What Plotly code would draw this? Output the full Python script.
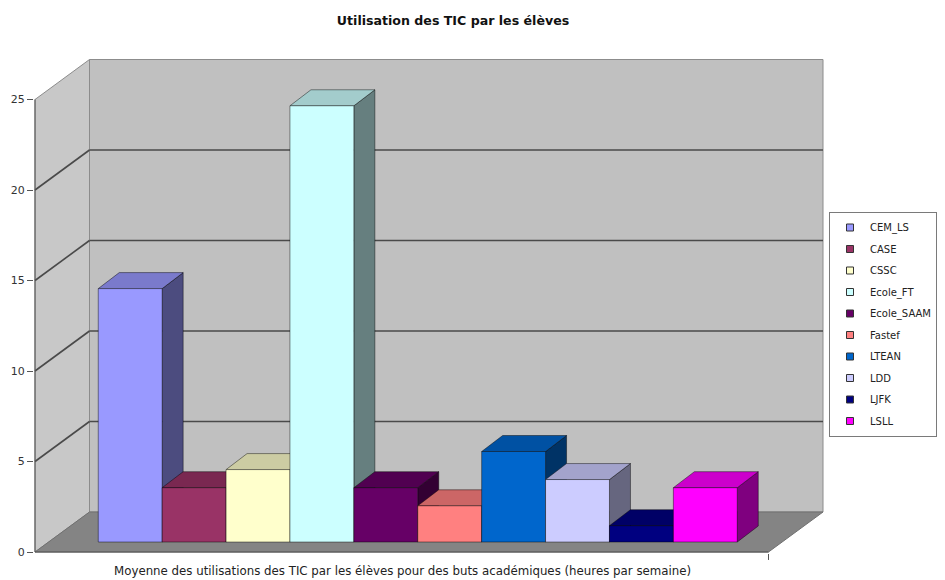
import plotly.graph_objects as go

# ---------------- data ----------------
categories = ["CEM_LS", "CASE", "CSSC", "Ecole_FT", "Ecole_SAAM",
              "Fastef", "LTEAN", "LDD", "LJFK", "LSLL"]
values = [14.0, 3.0, 4.0, 24.1, 3.0, 2.0, 5.0, 3.45, 0.9, 3.0]
colors = ["#9999FF", "#993366", "#FFFFCC", "#CCFFFF", "#660066",
          "#FF8080", "#0066CC", "#CCCCFF", "#000080", "#FF00FF"]
y_ticks = [0, 5, 10, 15, 20, 25]
chart_title = "Utilisation des TIC par les élèves"
x_title = ("Moyenne des utilisations des TIC par les élèves pour des buts "
           "académiques (heures par semaine)")

# ---------------- geometry (pseudo-3D, Excel style) ----------------
OFF = 8                       # default body margin of the html page
FIG_W, FIG_H = 945 - OFF, 580 - OFF
PX_X = 63.9                   # pixels per category
PX_Y = 18.1                   # pixels per unit
# plot area in screen pixels
P_LEFT, P_RIGHT, P_TOP, P_BOTTOM = 34, 826, 57, 554
ML = P_LEFT - OFF
MT = P_TOP - OFF
MR = FIG_W - (P_RIGHT - OFF)
MB = FIG_H - (P_BOTTOM - OFF)
PLOT_W = P_RIGHT - P_LEFT
PLOT_H = P_BOTTOM - P_TOP
X_FRONT = -0.99               # front-left corner (category units)
X_START = X_FRONT - 1 / PX_X
X_END = X_START + PLOT_W / PX_X
Y_START = -2 / PX_Y
Y_END = Y_START + PLOT_H / PX_Y
BACK_DX = 54.5 / PX_X
BACK_DY = 40 / PX_Y
X_BACK_RIGHT = X_END - 3 / PX_X
X_FLOOR_FRONT_RIGHT = X_BACK_RIGHT - BACK_DX
BAR_BASE = 10 / PX_Y
BAR_DX = 21 / PX_X
BAR_DY = 16 / PX_Y
Y_MAX = max(y_ticks)

FONT = "DejaVu Sans, Arial, sans-serif"


def shade(hex_color, f):
    h = hex_color.lstrip("#")
    r, g, b = (int(h[k:k + 2], 16) for k in (0, 2, 4))
    return "#%02x%02x%02x" % (int(r * f), int(g * f), int(b * f))


def px_x(sx):
    return (sx - P_LEFT) / PLOT_W


def px_y(sy):
    return (P_BOTTOM - sy) / PLOT_H


fig = go.Figure()

edge = dict(color="rgba(0,0,0,0.55)", width=0.8)
for i, (cat, v, c) in enumerate(zip(categories, values, colors)):
    x0, x1 = i, i + 1
    yb, yt = BAR_BASE, BAR_BASE + v
    # side face
    fig.add_trace(go.Scatter(
        x=[x1, x1 + BAR_DX, x1 + BAR_DX, x1, x1],
        y=[yb, yb + BAR_DY, yt + BAR_DY, yt, yb],
        fill="toself", fillcolor=shade(c, 0.5), mode="lines", line=edge,
        showlegend=False, hoverinfo="skip"))
    # top face
    fig.add_trace(go.Scatter(
        x=[x0, x0 + BAR_DX, x1 + BAR_DX, x1, x0],
        y=[yt, yt + BAR_DY, yt + BAR_DY, yt, yt],
        fill="toself", fillcolor=shade(c, 0.8), mode="lines", line=edge,
        showlegend=False, hoverinfo="skip"))
    # front face
    fig.add_trace(go.Scatter(
        x=[x0, x1, x1, x0, x0],
        y=[yb, yb, yt, yt, yb],
        fill="toself", fillcolor=c, mode="lines", line=edge,
        name=cat, legendgroup=cat, showlegend=False,
        hoveron="fills", hoverinfo="name+text", text="%s: %g" % (cat, v)))
    # legend entry
    fig.add_trace(go.Scatter(
        x=[None], y=[None], mode="markers", name=cat, legendgroup=cat,
        marker=dict(symbol="square", size=7, color=c,
                    line=dict(color="#333333", width=1))))

shapes = []
# left wall
shapes.append(dict(
    type="path", layer="below", xref="x", yref="y",
    path="M %f,%f L %f,%f L %f,%f L %f,%f Z" % (
        X_FRONT, 0, X_FRONT, Y_MAX, X_FRONT + BACK_DX, Y_MAX + BACK_DY,
        X_FRONT + BACK_DX, BACK_DY),
    fillcolor="#c8c8c8", line=dict(color="#8c8c8c", width=1)))
# back wall
shapes.append(dict(
    type="rect", layer="below", xref="x", yref="y",
    x0=X_FRONT + BACK_DX, x1=X_BACK_RIGHT, y0=BACK_DY, y1=Y_MAX + BACK_DY,
    fillcolor="#c0c0c0", line=dict(color="#8c8c8c", width=1)))
# floor
shapes.append(dict(
    type="path", layer="below", xref="x", yref="y",
    path="M %f,%f L %f,%f L %f,%f L %f,%f Z" % (
        X_FRONT, 0, X_FLOOR_FRONT_RIGHT, 0, X_BACK_RIGHT, BACK_DY,
        X_FRONT + BACK_DX, BACK_DY),
    fillcolor="#848484", line=dict(color="#707070", width=1)))
# gridlines
for t in y_ticks[1:-1]:
    shapes.append(dict(type="line", layer="below", xref="x", yref="y",
                       x0=X_FRONT, y0=t, x1=X_FRONT + BACK_DX, y1=t + BACK_DY,
                       line=dict(color="#4a4a4a", width=1.6)))
    shapes.append(dict(type="line", layer="below", xref="x", yref="y",
                       x0=X_FRONT + BACK_DX, y0=t + BACK_DY,
                       x1=X_BACK_RIGHT, y1=t + BACK_DY,
                       line=dict(color="#4a4a4a", width=1.6)))
# front axes
shapes.append(dict(type="line", layer="above", xref="x", yref="y",
                   x0=X_FRONT, y0=0, x1=X_FRONT, y1=Y_MAX,
                   line=dict(color="#555555", width=1)))
shapes.append(dict(type="line", layer="above", xref="x", yref="y",
                   x0=X_FRONT, y0=0, x1=X_FLOOR_FRONT_RIGHT, y1=0,
                   line=dict(color="#555555", width=1)))
shapes.append(dict(type="line", layer="above", xref="x", yref="paper",
                   x0=X_FLOOR_FRONT_RIGHT, y0=0, x1=X_FLOOR_FRONT_RIGHT,
                   y1=-0.012, line=dict(color="#555555", width=1)))

fig.update_layout(
    width=FIG_W, height=FIG_H,
    margin=dict(l=ML, r=MR, t=MT, b=MB, autoexpand=False),
    paper_bgcolor="white", plot_bgcolor="white",
    font=dict(family=FONT, size=10, color="#222222"),
    title=dict(text="<b>%s</b>" % chart_title,
               x=(453 - OFF) / FIG_W, xanchor="center",
               xref="container", yref="container",
               y=1 - (21 - OFF) / FIG_H, yanchor="middle",
               font=dict(family=FONT, size=12.6, color="#111111")),
    xaxis=dict(range=[X_START, X_END], showgrid=False, zeroline=False,
               showticklabels=False, ticks="", showline=False,
               fixedrange=True),
    yaxis=dict(range=[Y_START, Y_END], showgrid=False, zeroline=False,
               tickvals=y_ticks, ticks="outside", ticklen=6,
               tickcolor="#555555", showline=False,
               tickfont=dict(family=FONT, size=11, color="#333333"),
               fixedrange=True),
    showlegend=True,
    legend=dict(x=px_x(829), xanchor="left",
                y=px_y(212), yanchor="top",
                bgcolor="white", bordercolor="#7a7a7a", borderwidth=1,
                font=dict(family=FONT, size=10, color="#222222"),
                tracegroupgap=2.5, itemclick=False),
    shapes=shapes,
    annotations=[dict(text=x_title, xref="paper", yref="paper",
                      x=px_x(402), y=px_y(571),
                      xanchor="center", yanchor="middle", showarrow=False,
                      font=dict(family=FONT, size=11.8, color="#222222"))],
)

fig.write_html("out.html")
